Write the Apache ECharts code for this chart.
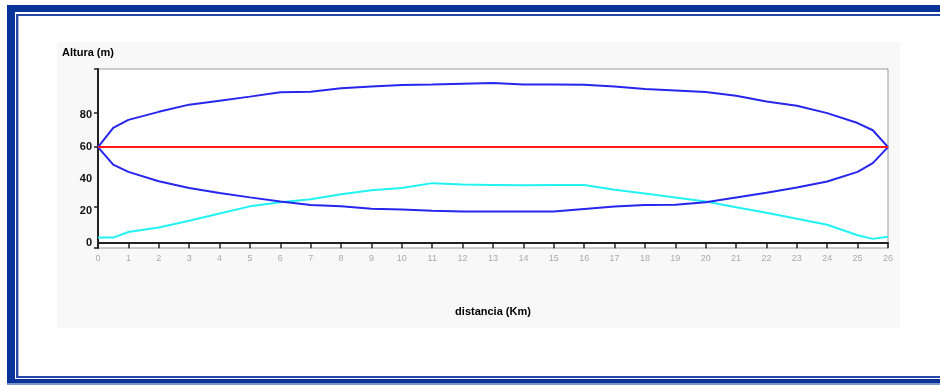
<!DOCTYPE html>
<html>
<head>
<meta charset="utf-8">
<script src="https://cdn.jsdelivr.net/npm/echarts@6/dist/echarts.min.js"></script>
<style>
  html, body { margin: 0; padding: 0; background: #fff; }
  #wrap { position: relative; width: 940px; height: 385px; overflow: hidden; }
  .deco { position: absolute; }
  #chart { position: absolute; left: 0; top: 0; width: 940px; height: 385px; }
</style>
</head>
<body>
<div id="wrap">
  <div class="deco" style="left:7px;top:5px;width:933px;height:7px;background:#0a3399"></div>
  <div class="deco" style="left:7px;top:5px;width:8px;height:378px;background:#0a3399"></div>
  <div class="deco" style="left:7px;top:379px;width:933px;height:4px;background:#0a3399"></div>
  <div class="deco" style="left:7px;top:383px;width:933px;height:2px;background:#7d95cc"></div>
  <div class="deco" style="left:16px;top:14px;width:924px;height:2px;background:#2447a8"></div>
  <div class="deco" style="left:16px;top:14px;width:2px;height:364px;background:#2447a8"></div>
  <div class="deco" style="left:18px;top:16px;width:1px;height:361px;background:#a8b8e0"></div>
  <div class="deco" style="left:16px;top:376px;width:924px;height:2px;background:#2447a8"></div>
  <div class="deco" style="left:57px;top:42px;width:843px;height:286px;background:#f8f8f8"></div>
  <div id="chart"></div>
</div>
<script>
var distances = [0, 0.5, 1, 2, 3, 4, 5, 6, 7, 8, 9, 10, 11, 12, 13, 14, 15, 16, 17, 18, 19, 20, 21, 22, 23, 24, 25, 25.5, 26];
var upperBlue = [60, 72, 77, 82, 86.5, 89, 91.5, 94.3, 94.5, 96.8, 97.9, 98.7, 99, 99.5, 100, 99, 99, 98.9, 97.9, 96.2, 95.4, 94.4, 92, 88.5, 85.8, 81.2, 75, 70.5, 60];
var lowerBlue = [60, 49, 44.5, 38.7, 34.5, 31.3, 28.6, 26, 23.8, 23, 21.5, 21, 20.3, 19.8, 19.8, 19.8, 19.8, 21.4, 22.9, 23.8, 24, 25.5, 28.5, 31.5, 34.8, 38.5, 44.5, 50, 60];
var cyanLine = [3.5, 3.5, 7, 9.8, 14, 18.5, 23, 25.5, 27.5, 30.5, 33, 34.5, 37.5, 36.6, 36.4, 36.2, 36.4, 36.4, 33.3, 31, 28.5, 26, 22.5, 19, 15.2, 11.5, 5, 2.7, 4];
var redLine = [60, 60, 60, 60, 60, 60, 60, 60, 60, 60, 60, 60, 60, 60, 60, 60, 60, 60, 60, 60, 60, 60, 60, 60, 60, 60, 60, 60, 60];
var yLabels = [0, 20, 40, 60, 80];
var yTicks = [-3, 23, 60, 81.5, 108.75];

var FONT = 'Arial, "Liberation Sans", sans-serif';

function pairs(values) {
  return distances.map(function (d, i) { return [d, values[i]]; });
}

function lineSeries(values, color) {
  return {
    type: 'line',
    data: pairs(values),
    symbol: 'none',
    silent: true,
    lineStyle: { color: color, width: 2 }
  };
}

var chart = echarts.init(document.getElementById('chart'), null, { renderer: 'canvas' });
chart.setOption({
  backgroundColor: 'transparent',
  animation: false,
  textStyle: { fontFamily: FONT },
  grid: {
    left: 98,
    right: 52,
    top: 69,
    bottom: 137,
    show: true,
    backgroundColor: '#ffffff',
    borderColor: '#999999',
    borderWidth: 1
  },
  graphic: [{
    type: 'text',
    left: 62,
    top: 47,
    style: { text: 'Altura (m)', font: 'bold 11px ' + FONT, fill: '#000' }
  }],
  xAxis: {
    type: 'value',
    min: 0,
    max: 26,
    interval: 1,
    name: 'distancia (Km)',
    nameLocation: 'middle',
    nameGap: 58,
    nameTextStyle: { color: '#000', fontWeight: 'bold', fontSize: 11, fontFamily: FONT },
    axisLine: { lineStyle: { color: '#222', width: 2 } },
    axisTick: { length: 5, lineStyle: { color: '#222', width: 1.5 } },
    axisLabel: { color: '#aaaaaa', fontSize: 9, margin: 6 },
    splitLine: { show: false }
  },
  yAxis: {
    type: 'value',
    min: -3,
    max: 108.75,
    axisLine: { show: true, lineStyle: { color: '#222', width: 2 } },
    axisTick: { show: true, length: 4, customValues: yTicks, lineStyle: { color: '#222', width: 1.5 } },
    axisLabel: { customValues: yLabels, color: '#111', fontSize: 11, fontWeight: 'bold', margin: 6 },
    splitLine: { show: false }
  },
  series: [
    lineSeries(cyanLine, '#22f2f2'),
    lineSeries(upperBlue, '#2626ee'),
    lineSeries(lowerBlue, '#2626ee'),
    lineSeries(redLine, '#ff1a1a')
  ]
});
</script>
</body>
</html>
